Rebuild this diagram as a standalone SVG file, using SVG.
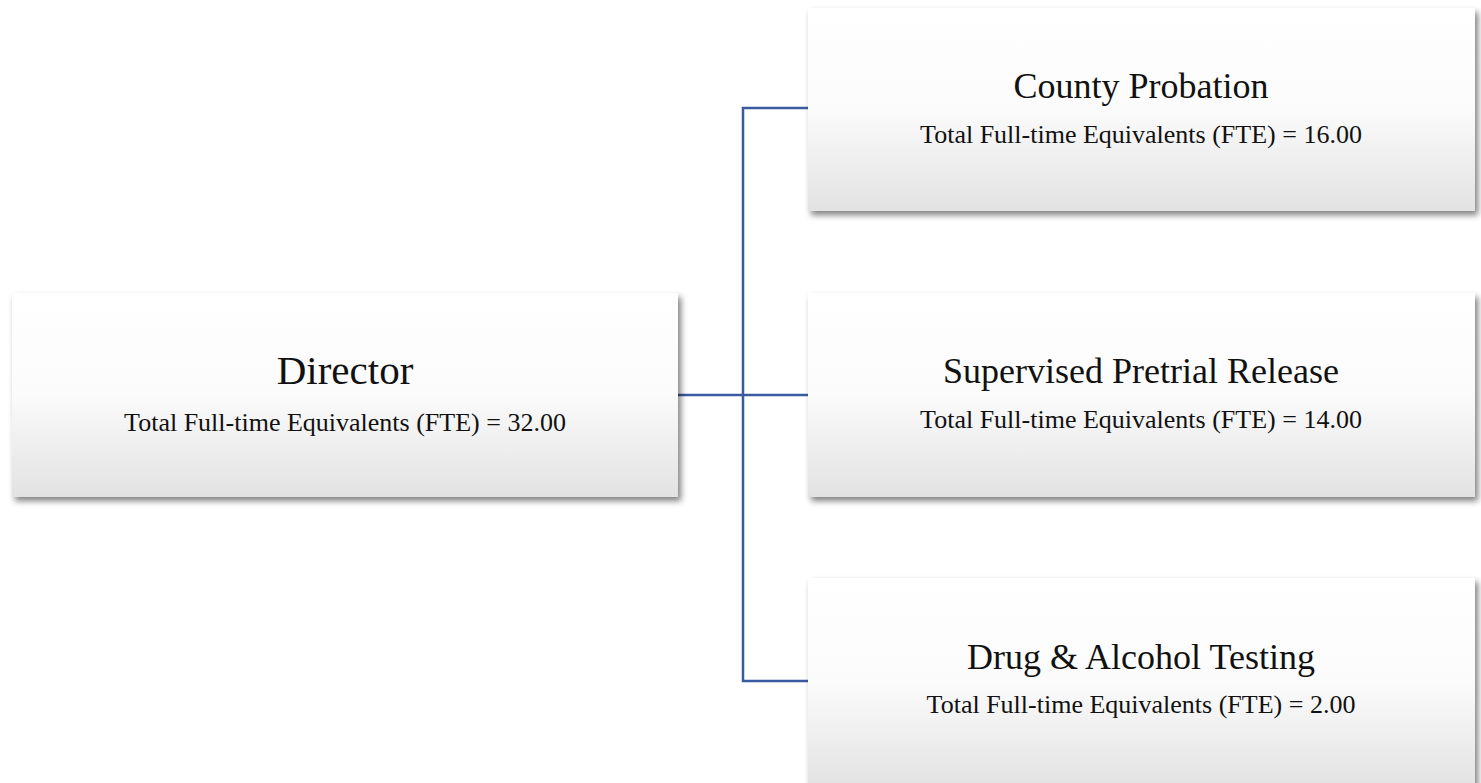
<svg xmlns="http://www.w3.org/2000/svg" width="1481" height="783" viewBox="0 0 1481 783">
<style>
.box{fill:url(#g);filter:url(#sh)}
.t{font-family:"Liberation Serif",serif;font-size:36px;fill:#111;text-anchor:middle}
.s{font-family:"Liberation Serif",serif;font-size:26px;fill:#111;text-anchor:middle}
.c{stroke:#3a5ba0;stroke-width:2.5;fill:none}
</style>
<defs>
<linearGradient id="g" x1="0" y1="0" x2="0" y2="1">
<stop offset="0" stop-color="#ffffff"/>
<stop offset="0.5" stop-color="#fbfbfb"/>
<stop offset="1" stop-color="#e2e2e2"/>
</linearGradient>
<filter id="sh" x="-5%" y="-5%" width="112%" height="120%">
<feGaussianBlur in="SourceAlpha" stdDeviation="3"/>
<feOffset dx="3" dy="4"/>
<feComponentTransfer><feFuncA type="linear" slope="0.5"/></feComponentTransfer>
<feMerge><feMergeNode/><feMergeNode in="SourceGraphic"/></feMerge>
</filter>
</defs>
<g id="connectors">
<path class="c" d="M678 395H808"/>
<path class="c" d="M808 108H743V681H808"/>
</g>
<g id="director">
<rect class="box" x="12" y="293" width="666" height="204"/>
<text class="t" x="345" y="384" style="font-size:41px">Director</text>
<text class="s" x="345" y="431">Total Full-time Equivalents (FTE) = 32.00</text>
</g>
<g id="county-probation">
<rect class="box" x="808" y="8" width="667" height="203"/>
<text class="t" x="1141" y="98">County Probation</text>
<text class="s" x="1141" y="143">Total Full-time Equivalents (FTE) = 16.00</text>
</g>
<g id="supervised-pretrial-release">
<rect class="box" x="808" y="293" width="667" height="204"/>
<text class="t" x="1141" y="383">Supervised Pretrial Release</text>
<text class="s" x="1141" y="428">Total Full-time Equivalents (FTE) = 14.00</text>
</g>
<g id="drug-alcohol-testing">
<rect class="box" x="808" y="578" width="667" height="210"/>
<text class="t" x="1141" y="669">Drug &amp; Alcohol Testing</text>
<text class="s" x="1141" y="713">Total Full-time Equivalents (FTE) = 2.00</text>
</g>
</svg>
